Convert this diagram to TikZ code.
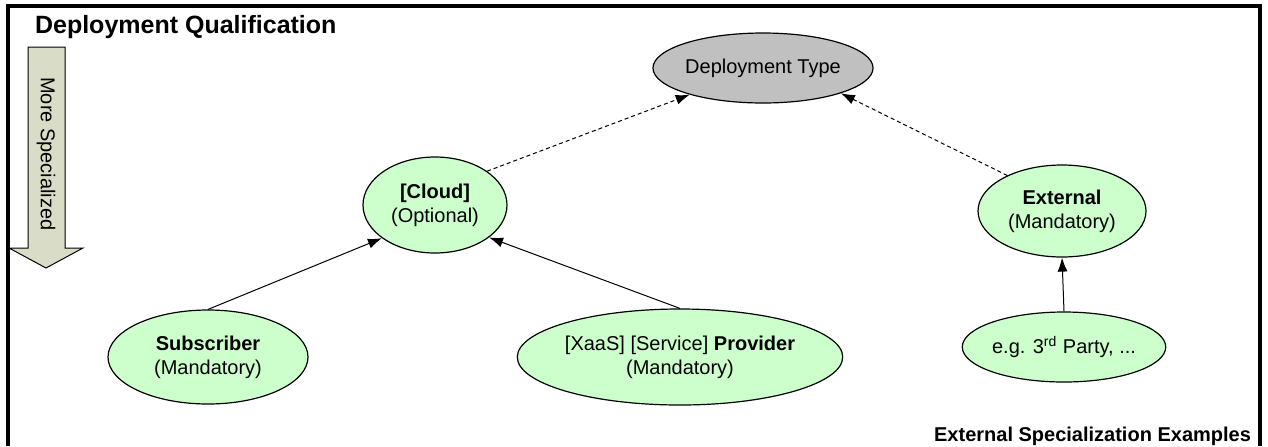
\documentclass[tikz,border=0pt]{standalone}
\usepackage{fontspec}
\setmainfont{Liberation Sans}
\usetikzlibrary{shapes.geometric, positioning, arrows.meta}
\definecolor{nodegreen}{RGB}{204,255,204}
\definecolor{nodegray}{RGB}{192,192,192}
\definecolor{arrowgreen}{RGB}{217,221,199}
\tikzset{
>={Latex[length=7pt,width=5pt]}, % filled arrow heads
node distance=70pt, % distance between the node centres
every node/.style={font=\fontsize{10}{12}\selectfont, align=center}, % text of all nodes
concept/.style={ellipse, draw, line width=0.6pt, inner sep=0pt, fill=nodegreen}, % green ellipses
root/.style={concept, fill=nodegray}, % the grey top ellipse
spec/.style={->, line width=0.5pt}, % solid specialization edges
qual/.style={->, line width=0.5pt, dash pattern=on 2pt off 1.5pt}, % dashed edges to the top
}
\begin{document}
\begin{tikzpicture}[x=0.5pt, y=-0.5pt]
    \useasboundingbox (0,0) rectangle (1268,446);
    \draw[line width=1.8pt] (8,446) -- (8,6) -- (1260,6) -- (1260,446);
    \node[anchor=base west, font=\fontsize{12.5}{14}\selectfont\bfseries] (title) at (28,33) {Deployment Qualification};
    % big arrow on the left
    \draw[fill=arrowgreen, line width=0.5pt] (28,47) -- (65,47) -- (65,248) -- (83,248) -- (46,268) -- (9,248) -- (28,248) -- cycle;
    \node[rotate=-90] (more) at (46,154) {More Specialized};
    \node[root, minimum width=107pt, minimum height=35pt] (dtype) at (763,68) {Deployment Type};
    \node[concept, below of=dtype, xshift=-164pt, yshift=1.5pt, minimum width=72pt, minimum height=48pt] (cloud) {\textbf{[Cloud]}\\(Optional)};
    \node[concept, below of=dtype, xshift=149.5pt, yshift=-1.5pt, minimum width=84pt, minimum height=46pt] (extern) {\textbf{External}\\(Mandatory)};
    \node[concept, below of=cloud, xshift=-113.5pt, yshift=-6pt, minimum width=100pt, minimum height=47pt] (subscr) {\textbf{Subscriber}\\(Mandatory)};
    \node[concept, below of=cloud, xshift=122.5pt, yshift=-6pt, minimum width=162pt, minimum height=48pt] (provid) {[XaaS] [Service] \textbf{Provider}\\(Mandatory)};
    \node[concept, below of=extern, xshift=1pt, yshift=2pt, minimum width=101pt, minimum height=35pt] (party) {e.g. 3\textsuperscript{rd} Party, ...};
    \node[anchor=base east, font=\fontsize{10}{12}\selectfont\bfseries] (examples) at (1258,441) {External Specialization Examples};
    \draw
    (subscr.north) edge[spec] (cloud.212)
    (provid.north) edge[spec] (cloud.329)
    (party.north) edge[spec] (extern.south)
    (cloud.33) edge[qual] (dtype.200)
    (extern.147) edge[qual] (dtype.342);
\end{tikzpicture}
\end{document}
